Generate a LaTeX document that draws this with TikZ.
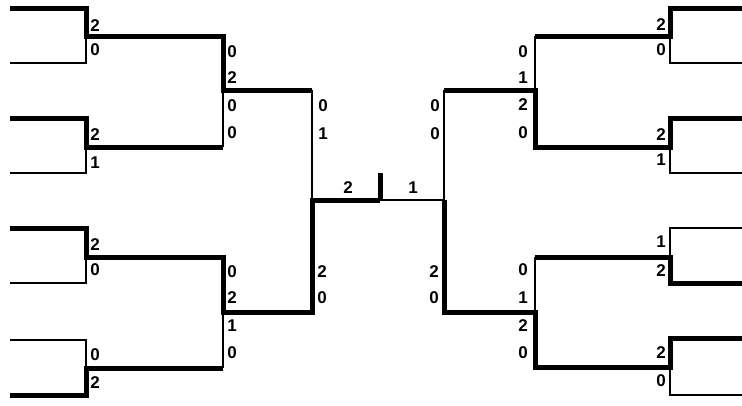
\documentclass[tikz,border=0pt]{standalone}
\usepackage{fontspec}
\setmainfont{Liberation Sans}
\begin{document}
\begin{tikzpicture}[x=1pt,y=-1pt,
  win/.style={line width=5pt,line join=miter,line cap=butt},
  lose/.style={line width=1.5pt,line join=miter},
  sc/.style={font=\bfseries\fontsize{17}{17}\selectfont,inner sep=0pt,anchor=center}]
\useasboundingbox (0,0) rectangle (742,405);
% ---------- left half ----------
\coordinate (la1) at (10,8);   \coordinate (lb1) at (10,63);
\coordinate (la2) at (10,118); \coordinate (lb2) at (10,173);
\coordinate (la3) at (10,228); \coordinate (lb3) at (10,283);
\coordinate (la4) at (10,340); \coordinate (lb4) at (10,395);
\coordinate (j1) at (86,36);  \coordinate (j2) at (86,147);
\coordinate (j3) at (86,257); \coordinate (j4) at (86,368);
\coordinate (k1) at (223,90); \coordinate (k2) at (223,312);
\coordinate (s1) at (312,200);
\coordinate (ft) at (380,200); \coordinate (ftt) at (380,173);
% ---------- right half ----------
\coordinate (s2) at (444,200);
\coordinate (m1) at (535,90); \coordinate (m2) at (535,312);
\coordinate (n1) at (670,36);  \coordinate (n2) at (670,147);
\coordinate (n3) at (670,257); \coordinate (n4) at (670,367);
\coordinate (ra1) at (742,8);   \coordinate (rb1) at (742,63);
\coordinate (ra2) at (742,118); \coordinate (rb2) at (742,173);
\coordinate (ra3) at (742,228); \coordinate (rb3) at (742,283);
\coordinate (ra4) at (742,338); \coordinate (rb4) at (742,395);

% thin (losing) lines
\draw[lose] (lb1) -| (j1);
\draw[lose] (lb2) -| (j2);
\draw[lose] (lb3) -| (j3);
\draw[lose] (la4) -| (j4);
\draw[lose] (j2 -| k1) -- (k1);
\draw[lose] (j4 -| k2) -- (k2);
\draw[lose] (k1 -| s1) -- (s1);
\draw[lose] (ft) -- (s2);
\draw[lose] (s2) -- (s2 |- m1);
\draw[lose] (n1 -| m1) -- (m1);
\draw[lose] (n3 -| m2) -- (m2);
\draw[lose] (rb1) -| (n1);
\draw[lose] (rb2) -| (n2);
\draw[lose] (ra3) -| (n3);
\draw[lose] (rb4) -| (n4);

% thick (winning) lines
\draw[win] (la1) -| (j1) -- (j1 -| k1) -- (k1) -- (k1 -| s1);
\draw[win] (la2) -| (j2) -- (j2 -| k1);
\draw[win] (la3) -| (j3) -- (j3 -| k2) -- (k2) -- (k2 -| s1) -- (s1) -- (ft);
\draw[win] (lb4) -| (j4) -- (j4 -| k2);
\draw[win] (ftt) -- (ft);
\draw[win] (s2 |- m1) -- (m1) -- (n2 -| m1) -- (n2) |- (ra2);
\draw[win] (n1 -| m1) -- (n1) |- (ra1);
\draw[win] (s2) -- (s2 |- m2) -- (m2) -- (n4 -| m2) -- (n4) |- (ra4);
\draw[win] (n3 -| m2) -- (n3) |- (rb3);

% ---------- scores, left ----------
\node[sc] (t1) at (95,26) {2};  \node[sc] (t2) at (95,50) {0};
\node[sc] (t3) at (95,135) {2}; \node[sc] (t4) at (95,163) {1};
\node[sc] (t5) at (95,245) {2}; \node[sc] (t6) at (95,270) {0};
\node[sc] (t7) at (95,355) {0}; \node[sc] (t8) at (95,383) {2};
\node[sc] (u1) at (232,52) {0};  \node[sc] (u2) at (232,78) {2};
\node[sc] (u3) at (232,106) {0}; \node[sc] (u4) at (232,133) {0};
\node[sc] (u5) at (232,272) {0}; \node[sc] (u6) at (232,298) {2};
\node[sc] (u7) at (232,326) {1}; \node[sc] (u8) at (232,353) {0};
\node[sc] (v1) at (323,106) {0}; \node[sc] (v2) at (323,134) {1};
\node[sc] (v3) at (322,272) {2}; \node[sc] (v4) at (322,298) {0};
% ---------- final ----------
\node[sc] (f1) at (348,188) {2}; \node[sc] (f2) at (413,188) {1};
% ---------- scores, right ----------
\node[sc] (w1) at (435,106) {0}; \node[sc] (w2) at (435,134) {0};
\node[sc] (w3) at (434,272) {2}; \node[sc] (w4) at (434,298) {0};
\node[sc] (x1) at (523,52) {0};  \node[sc] (x2) at (523,78) {1};
\node[sc] (x3) at (523,105) {2}; \node[sc] (x4) at (523,133) {0};
\node[sc] (x5) at (523,270) {0}; \node[sc] (x6) at (523,298) {1};
\node[sc] (x7) at (523,326) {2}; \node[sc] (x8) at (523,353) {0};
\node[sc] (y1) at (661,25) {2};  \node[sc] (y2) at (661,50) {0};
\node[sc] (y3) at (661,135) {2}; \node[sc] (y4) at (661,160) {1};
\node[sc] (y5) at (661,242) {1}; \node[sc] (y6) at (661,271) {2};
\node[sc] (y7) at (661,353) {2}; \node[sc] (y8) at (661,381) {0};
\end{tikzpicture}
\end{document}
